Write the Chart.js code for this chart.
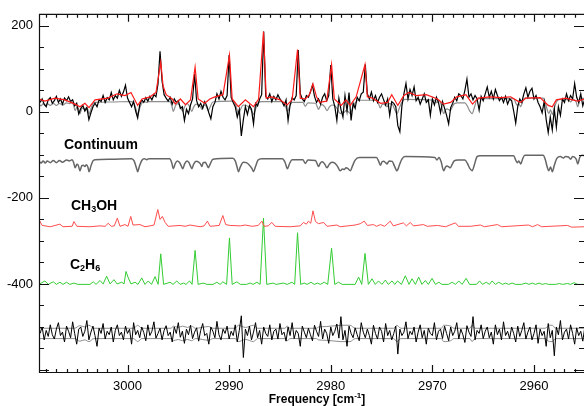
<!DOCTYPE html>
<html>
<head>
<meta charset="utf-8">
<script src="https://cdn.jsdelivr.net/npm/chart.js@4"></script>
<style>
  body { margin: 0; background: #fff; }
  canvas { display: block; }
</style>
</head>
<body>
<canvas id="chart" width="584" height="406"></canvas>
<script>
// axis ranges (frequency axis runs high -> low)
const X_MIN = 2955.08, X_MAX = 3008.71;
const Y_MIN = -607, Y_MAX = 228;
const Y_LABELS = [200, 0, -200, -400];

// observed spectrum and residual, sampled from 3008.6 cm-1 downwards in 0.2 cm-1 steps
const OBS_START = 3008.6, OBS_STEP = 0.2;
const observed = [
  22, 30, 18, 12, 28, 33, 20, 26, 36, 22, 30, 18, 32, 26, 35, 24, 28, 14, 20, -5,
  8, 15, 2, 10, -18, -2, 12, 20, 12, 28, 24, 38, 22, 33, 28, 45, 28, 38, 32, 50,
  36, 46, 62, 32, 22, 12, 24, 2, -14, 16, 28, 22, 33, 25, 36, 28, 40, 35, 65, 141,
  72, 40, 32, 25, 34, 18, 30, 22, 26, 8, 12, -20, 6, -4, 16, 30, 88, 26, 12, 20,
  8, 24, 14, -2, -16, 12, 22, 42, 30, 48, 34, 28, 38, 132, 34, 22, 12, -12, 6, -56,
  -18, 12, -6, 15, 6, -28, 20, 14, 30, 40, 187, 36, 30, 42, 24, 36, 28, 40, 30, 24,
  14, 28, -20, 16, 33, 28, 38, 144, 42, 30, 24, 38, 34, 46, 62, 36, 22, 30, 18, 34,
  42, 26, 38, 109, 30, 12, -20, 32, 6, -12, 38, 2, 45, -20, 20, 8, 34, 26, 42, 46,
  110, 42, 30, 46, 26, 38, 22, 34, 42, 28, 16, 30, -8, 24, 20, 12, -32, -46, 14, 42,
  66, 30, 52, 38, 58, 26, 34, 18, 30, 42, 22, 28, -8, 30, 16, 34, 22, -2, 24, 8,
  -8, -28, 10, 20, 34, 26, 42, 38, 30, 50, 76, 34, 42, 28, 38, 30, 4, 36, 26, 42,
  58, 34, 48, 30, 52, 38, 26, 34, 22, 36, 18, 30, 26, 2, -26, 12, 30, 22, 42, 56,
  34, 48, 55, 30, 38, 22, 12, -2, 24, -18, -48, -12, -42, 6, -36, 12, -8, 30, 22, 42,
  26, 38, 30, 66, 34, 22, 42, 14, 30
];
const residual = [
  -515, -500, -530, -508, -522, -495, -518, -528, -505, -490, -520, -512, -535, -498, -510, -525, -488, -515, -540, -505,
  -500, -522, -510, -485, -530, -512, -498, -520, -545, -503, -515, -492, -528, -510, -518, -500, -535, -508, -495, -520,
  -512, -530, -498, -515, -505, -540, -490, -518, -508, -525, -500, -513, -532, -495, -520, -510, -488, -526, -515, -503,
  -530, -508, -497, -520, -512, -535, -500, -515, -490, -524, -510, -538, -505, -518, -496, -527, -512, -502, -533, -508,
  -492, -520, -515, -540, -500, -510, -525, -487, -518, -530, -505, -515, -498, -528, -510, -520, -495, -535, -508, -474,
  -571, -505, -520, -498, -530, -512, -490, -525, -508, -540, -500, -515, -522, -495, -530, -510, -505, -528, -492, -518,
  -512, -533, -500, -520, -490, -527, -508, -515, -545, -498, -512, -525, -503, -518, -532, -496, -510, -522, -487, -528,
  -505, -515, -538, -500, -520, -510, -493, -526, -476, -530, -508, -545, -498, -515, -525, -502, -518, -532, -490, -512,
  -525, -505, -520, -540, -496, -515, -528, -500, -510, -535, -492, -520, -508, -530, -515, -498, -563, -505, -520, -512,
  -488, -527, -510, -518, -500, -535, -512, -495, -525, -508, -540, -503, -515, -520, -490, -530, -510, -505, -527, -498,
  -515, -532, -500, -520, -510, -490, -528, -505, -518, -536, -497, -512, -522, -476, -530, -508, -515, -495, -527, -510,
  -500, -525, -512, -540, -495, -518, -505, -530, -488, -520, -510, -527, -500, -515, -535, -498, -522, -508, -490, -528,
  -512, -500, -530, -515, -495, -538, -505, -520, -510, -545, -492, -525, -508, -567, -500, -518, -485, -530, -512, -505,
  -528, -495, -515, -540, -502, -520, -510, -533, -500
];

// full model (red) over the observed spectrum: [frequency, value]
const fullModel = [
  [3008.72, 30], [3008.13, 25], [3007.14, 32], [3006.16, 28], [3005.17, 18], [3004.68, 12], [3004.19, 20],
  [3003.79, 10], [3003.2, 28], [3001.92, 32], [3001.03, 42], [3000.25, 38], [2999.66, 45], [2999.0, 15],
  [2998.57, 30], [2997.78, 35], [2997.2, 45], [2996.73, 116], [2996.5, 60], [2996.2, 40], [2995.6, 30],
  [2995.3, 18], [2994.8, 30], [2994.3, 17], [2993.8, 28], [2993.35, 104], [2993.05, 30], [2992.4, 20],
  [2991.9, 30], [2991.4, 35], [2990.6, 40], [2989.97, 132], [2989.7, 30], [2989.1, 12], [2988.4, 28],
  [2987.6, 12], [2987.1, 30], [2986.62, 187], [2986.35, 32], [2985.8, 35], [2985.0, 28], [2984.3, 16],
  [2983.8, 28], [2983.27, 145], [2983.0, 32], [2982.5, 30], [2982.1, 40], [2981.75, 65], [2981.4, 35],
  [2981.1, 22], [2980.4, 25], [2979.92, 110], [2979.65, 30], [2978.97, 15], [2978.5, 28], [2978.08, 15],
  [2977.5, 35], [2976.63, 110], [2976.4, 35], [2975.9, 32], [2975.1, 20], [2974.4, 22], [2974.0, 40],
  [2973.4, 15], [2972.8, 38], [2972.3, 45], [2971.6, 38], [2970.6, 40], [2969.5, 30], [2968.9, 18],
  [2968.2, 22], [2967.6, 35], [2966.7, 40], [2966.05, 18], [2965.5, 32], [2964.3, 35], [2963.3, 33],
  [2962.3, 35], [2961.6, 25], [2961.3, 22], [2960.8, 32], [2959.4, 33], [2958.6, 15], [2958.2, 12],
  [2957.8, 28], [2956.9, 32], [2955.7, 25], [2955.0, 30]
];

// continuum model (grey), shown on its own and again under the observed spectrum
const continuum = [
  [3008.7, -115], [3008.5, -119], [3008.3, -114], [3008.1, -119], [3007.9, -114], [3007.6, -118],
  [3007.3, -113], [3007.0, -118], [3006.7, -113], [3006.4, -117], [3006.0, -112], [3005.7, -114],
  [3005.45, -111], [3005.3, -118], [3005.15, -130], [3004.98, -122], [3004.85, -124], [3004.68, -137],
  [3004.5, -125], [3004.35, -124], [3004.19, -127], [3004.05, -123], [3003.9, -128], [3003.79, -139],
  [3003.6, -126], [3003.4, -114], [3003.2, -111], [3001.7, -110], [2999.6, -109], [2999.35, -114],
  [2999.15, -128], [2999.0, -139], [2998.85, -128], [2998.6, -113], [2998.35, -109], [2998.1, -111],
  [2997.9, -109], [2995.85, -109], [2995.65, -118], [2995.49, -132], [2995.3, -120], [2995.1, -114],
  [2994.9, -117], [2994.72, -125], [2994.56, -132], [2994.38, -121], [2994.15, -114], [2993.95, -118],
  [2993.8, -126], [2993.67, -132], [2993.5, -122], [2993.25, -115], [2993.0, -117], [2992.8, -122],
  [2992.69, -127], [2992.55, -118], [2992.35, -117], [2992.18, -124], [2992.04, -130], [2991.88, -122],
  [2991.6, -110], [2989.65, -108], [2989.4, -114], [2989.22, -128], [2989.08, -139], [2988.9, -128],
  [2988.6, -117], [2988.3, -118], [2988.0, -124], [2987.75, -132], [2987.6, -139], [2987.42, -128],
  [2987.15, -112], [2986.8, -109], [2984.75, -109], [2984.5, -117], [2984.26, -132], [2984.05, -120],
  [2983.8, -111], [2982.75, -111], [2982.5, -120], [2982.25, -112], [2981.5, -113], [2981.35, -120],
  [2981.2, -127], [2981.05, -120], [2980.85, -116], [2980.6, -121], [2980.37, -130], [2980.15, -122],
  [2979.9, -117], [2979.6, -119], [2979.35, -126], [2979.07, -137], [2978.85, -133], [2978.67, -134],
  [2978.5, -130], [2978.3, -132], [2978.08, -137], [2977.85, -125], [2977.6, -112], [2977.2, -106],
  [2975.5, -106], [2975.3, -114], [2975.12, -124], [2974.95, -116], [2974.8, -115], [2974.6, -118],
  [2974.46, -121], [2974.25, -114], [2973.95, -115], [2973.75, -125], [2973.48, -137], [2973.25, -124],
  [2973.0, -110], [2972.7, -104], [2969.75, -106], [2969.55, -112], [2969.35, -106], [2969.15, -115],
  [2968.89, -137], [2968.7, -128], [2968.55, -126], [2968.38, -128], [2968.23, -130], [2968.05, -122],
  [2967.85, -114], [2967.5, -112], [2966.8, -112], [2966.55, -120], [2966.3, -132], [2966.09, -137],
  [2965.88, -124], [2965.6, -104], [2965.3, -102], [2962.0, -102], [2961.8, -112], [2961.65, -118],
  [2961.5, -114], [2961.3, -121], [2961.1, -108], [2960.9, -101], [2959.1, -101], [2958.9, -110],
  [2958.7, -128], [2958.54, -137], [2958.37, -128], [2958.2, -139], [2958.0, -124], [2957.75, -108],
  [2957.4, -104], [2957.1, -107], [2956.9, -104], [2956.6, -105], [2956.4, -110], [2956.2, -104],
  [2955.85, -110], [2955.7, -121], [2955.5, -106], [2955.3, -101], [2955.0, -102]
];
const CONTINUUM_TOP_SHIFT = 133;

// CH3OH model (red, offset)
const ch3oh = [
  [3008.67, -252], [3008.4, -264], [3007.6, -267], [3006.65, -261], [3006.35, -267], [3005.45, -266],
  [3005.27, -255], [3004.98, -266], [3003.7, -267], [3002.7, -265], [3002.2, -266], [3001.9, -259],
  [3001.6, -266], [3001.3, -265], [3001.0, -247], [3000.74, -266], [3000.25, -262], [2999.95, -266],
  [2999.68, -243], [2999.46, -263], [2998.77, -262], [2998.28, -267], [2997.78, -265], [2997.39, -263],
  [2997.02, -227], [2996.8, -250], [2996.57, -243], [2996.3, -257], [2996.0, -266], [2994.83, -264],
  [2994.34, -266], [2993.84, -263], [2992.86, -267], [2992.46, -265], [2992.14, -254], [2991.87, -266],
  [2990.98, -264], [2990.62, -241], [2990.34, -262], [2989.9, -264], [2988.9, -265], [2988.42, -263],
  [2987.73, -266], [2987.14, -264], [2986.78, -254], [2986.55, -266], [2986.16, -265], [2985.8, -257],
  [2985.47, -266], [2984.0, -267], [2983.0, -265], [2982.69, -257], [2982.4, -261], [2982.2, -254],
  [2981.97, -259], [2981.75, -230], [2981.5, -255], [2981.2, -260], [2980.7, -257], [2980.37, -266],
  [2979.4, -263], [2979.07, -267], [2977.6, -263], [2977.1, -260], [2976.7, -254], [2976.4, -264],
  [2975.8, -262], [2975.5, -266], [2975.1, -262], [2974.7, -266], [2974.14, -254], [2973.85, -265],
  [2972.86, -258], [2972.56, -265], [2972.17, -257], [2971.87, -265], [2970.89, -262], [2970.5, -266],
  [2969.5, -264], [2968.7, -267], [2967.74, -258], [2967.44, -266], [2966.26, -266], [2965.27, -263],
  [2964.88, -267], [2963.6, -262], [2963.2, -267], [2960.54, -263], [2960.14, -267], [2959.65, -262],
  [2959.26, -267], [2956.7, -264], [2956.3, -268], [2955.0, -267]
];

// C2H6 model (green, offset)
const c2h6 = [
  [3008.72, -401], [3008.13, -393], [3007.8, -401], [3007.3, -395], [3007.0, -401], [3006.65, -396],
  [3006.35, -401], [3006.0, -396], [3005.67, -401], [3005.27, -398], [3004.88, -401], [3003.7, -401],
  [3003.37, -395], [3003.1, -401], [3002.7, -392], [3002.4, -400], [3002.05, -382], [3001.72, -400],
  [3001.33, -390], [3001.03, -400], [3000.57, -396], [3000.34, -400], [3000.15, -371], [2999.92, -386],
  [2999.66, -400], [2999.26, -396], [2998.97, -401], [2998.6, -386], [2998.28, -401], [2997.96, -393],
  [2997.64, -401], [2997.29, -383], [2996.99, -401], [2996.73, -330], [2996.45, -401], [2995.81, -396],
  [2995.52, -401], [2995.15, -393], [2994.83, -401], [2994.5, -398], [2994.24, -401], [2993.9, -393],
  [2993.65, -401], [2993.35, -322], [2993.05, -401], [2992.56, -398], [2992.17, -401], [2991.58, -401],
  [2991.21, -396], [2990.89, -401], [2990.62, -395], [2990.25, -401], [2989.97, -293], [2989.7, -401],
  [2989.24, -395], [2988.9, -401], [2988.3, -401], [2987.93, -398], [2987.64, -401], [2987.27, -396],
  [2986.95, -401], [2986.62, -247], [2986.3, -401], [2985.67, -398], [2985.37, -401], [2984.65, -398],
  [2984.29, -401], [2983.82, -396], [2983.55, -401], [2983.27, -281], [2982.96, -401], [2982.61, -398],
  [2982.32, -401], [2981.95, -396], [2981.63, -401], [2981.3, -398], [2981.03, -401], [2980.64, -396],
  [2980.3, -401], [2979.92, -317], [2979.61, -401], [2979.24, -396], [2978.87, -401], [2977.6, -401],
  [2977.26, -384], [2976.95, -401], [2976.63, -329], [2976.3, -401], [2975.94, -388], [2975.62, -401],
  [2975.3, -393], [2974.97, -401], [2974.63, -391], [2974.34, -401], [2973.97, -393], [2973.7, -401],
  [2973.42, -393], [2973.05, -401], [2972.66, -381], [2972.3, -401], [2972.0, -388], [2971.67, -401],
  [2971.35, -384], [2971.03, -401], [2970.69, -392], [2970.4, -401], [2970.03, -387], [2969.7, -401],
  [2969.36, -396], [2969.06, -401], [2968.42, -401], [2968.05, -396], [2967.73, -401], [2967.4, -393],
  [2967.08, -401], [2966.68, -387], [2966.34, -401], [2965.66, -401], [2965.36, -393], [2965.07, -401],
  [2964.7, -396], [2964.38, -401], [2964.12, -393], [2963.79, -401], [2963.47, -396], [2963.1, -401],
  [2962.8, -398], [2962.5, -401], [2962.15, -398], [2961.8, -401], [2961.23, -401], [2960.8, -398],
  [2960.5, -401], [2960.17, -398], [2959.85, -401], [2959.5, -398], [2959.2, -401], [2958.86, -399],
  [2958.56, -401], [2957.86, -401], [2957.5, -399], [2957.2, -401], [2956.7, -399], [2956.4, -401],
  [2956.05, -397], [2955.7, -401], [2955.0, -401]
];

// +/- noise envelope around the residual (grey)
const envUpper = [
  [3008.7, -503], [3005.2, -503], [3004.7, -497], [3004.2, -500], [3003.8, -496], [3003.3, -503],
  [2999.4, -503], [2999.0, -496], [2998.6, -503], [2995.7, -503], [2995.5, -498], [2995.0, -501],
  [2994.6, -498], [2994.1, -501], [2993.7, -498], [2993.3, -503], [2992.0, -499], [2991.6, -503],
  [2989.4, -503], [2989.1, -496], [2988.4, -501], [2987.6, -496], [2987.2, -503], [2984.5, -503],
  [2984.3, -498], [2984.0, -503], [2981.4, -503], [2981.2, -500], [2980.4, -499], [2979.0, -496],
  [2978.1, -496], [2977.6, -503], [2973.8, -503], [2973.5, -496], [2973.1, -503], [2969.1, -503],
  [2968.9, -496], [2968.2, -498], [2967.9, -503], [2966.3, -503], [2966.1, -496], [2965.8, -503],
  [2958.9, -503], [2958.5, -496], [2958.2, -496], [2957.9, -503], [2955.0, -503]
];
const envLower = [
  [3008.7, -527], [3005.2, -527], [3004.7, -533], [3004.2, -530], [3003.8, -534], [3003.3, -527],
  [2999.4, -527], [2999.0, -534], [2998.6, -527], [2995.7, -527], [2995.5, -532], [2995.0, -529],
  [2994.6, -532], [2994.1, -529], [2993.7, -532], [2993.3, -527], [2992.0, -531], [2991.6, -527],
  [2989.4, -527], [2989.1, -534], [2988.4, -529], [2987.6, -534], [2987.2, -527], [2984.5, -527],
  [2984.3, -532], [2984.0, -527], [2981.4, -527], [2981.2, -530], [2980.4, -531], [2979.0, -534],
  [2978.1, -534], [2977.6, -527], [2973.8, -527], [2973.5, -534], [2973.1, -527], [2969.1, -527],
  [2968.9, -534], [2968.2, -532], [2967.9, -527], [2966.3, -527], [2966.1, -534], [2965.8, -527],
  [2958.9, -527], [2958.5, -534], [2958.2, -534], [2957.9, -527], [2955.0, -527]
];

const FONT = '"Liberation Sans", Arial, Helvetica, sans-serif';

const pairs = (arr, shift = 0) => arr.map(p => ({ x: p[0], y: p[1] + shift }));
const sampled = arr => arr.map((v, i) => ({ x: OBS_START - i * OBS_STEP, y: v }));

function line(data, color, width, order, extra) {
  return Object.assign({
    data: data,
    borderColor: color,
    borderWidth: width,
    pointRadius: 0,
    fill: false,
    tension: 0,
    order: order,
  }, extra || {});
}

// draws a label with subscripts: parts = [[text, isSub], ...]
function subText(ctx, parts, x, y, size) {
  parts.forEach(([txt, sub]) => {
    ctx.font = 'bold ' + (sub ? Math.round(size * 0.62) : size) + 'px ' + FONT;
    ctx.fillText(txt, x, sub ? y + 4 : y);
    x += ctx.measureText(txt).width;
  });
}

// axis frame (right edge is cut off in the original), inward ticks and text labels
const decorations = {
  id: 'decorations',
  afterDraw(chart) {
    const { ctx, chartArea: a, scales: { x, y } } = chart;
    ctx.save();
    ctx.strokeStyle = '#111';
    ctx.lineWidth = 1.2;
    ctx.beginPath();
    ctx.moveTo(a.right + 2, a.top + 0.5);
    ctx.lineTo(a.left + 0.5, a.top + 0.5);
    ctx.lineTo(a.left + 0.5, a.bottom - 0.5);
    ctx.lineTo(a.right + 2, a.bottom - 0.5);

    x.ticks.forEach(t => {
      if (Math.abs(t.value - Math.round(t.value)) > 1e-6) return;
      const px = Math.round(x.getPixelForValue(t.value)) + 0.5;
      const len = Math.round(t.value) % 10 === 0 ? 8 : 4;
      ctx.moveTo(px, a.bottom); ctx.lineTo(px, a.bottom - len);
      ctx.moveTo(px, a.top); ctx.lineTo(px, a.top + len);
    });
    y.ticks.forEach(t => {
      if (Math.abs(t.value % 50) > 1e-6) return;
      const py = Math.round(y.getPixelForValue(t.value)) + 0.5;
      const len = t.value % 200 === 0 ? 10 : 5;
      ctx.moveTo(a.left, py); ctx.lineTo(a.left + len, py);
      ctx.moveTo(a.right, py); ctx.lineTo(a.right - len, py);
    });
    ctx.stroke();

    ctx.fillStyle = '#000';
    ctx.textBaseline = 'middle';
    ctx.textAlign = 'left';
    subText(ctx, [['Continuum', false]], 64, 145, 14);
    subText(ctx, [['CH', false], ['3', true], ['OH', false]], 71, 206, 14);
    subText(ctx, [['C', false], ['2', true], ['H', false], ['6', true]], 70, 265, 14);

    // x axis title with superscript
    ctx.font = 'bold 12px ' + FONT;
    const w1 = ctx.measureText('Frequency [cm').width;
    const w3 = ctx.measureText(']').width;
    ctx.font = 'bold 8px ' + FONT;
    const w2 = ctx.measureText('-1').width;
    let tx = 317 - (w1 + w2 + w3) / 2;
    ctx.font = 'bold 12px ' + FONT;
    ctx.fillText('Frequency [cm', tx, 400); tx += w1;
    ctx.font = 'bold 8px ' + FONT;
    ctx.fillText('-1', tx, 396); tx += w2;
    ctx.font = 'bold 12px ' + FONT;
    ctx.fillText(']', tx, 400);
    ctx.restore();
  }
};

new Chart(document.getElementById('chart'), {
  type: 'line',
  data: {
    datasets: [
      line(pairs(fullModel), '#ff1a1a', 1.2, 1),
      line(sampled(observed), '#000000', 1.2, 2),
      line(pairs(continuum, CONTINUUM_TOP_SHIFT), '#8c8c8c', 1.2, 3, { cubicInterpolationMode: 'monotone' }),
      line(pairs(continuum), '#666666', 1.5, 4, { cubicInterpolationMode: 'monotone' }),
      line(pairs(ch3oh), '#ff4d4d', 1, 5),
      line(pairs(c2h6), '#33cc33', 1, 6),
      line(sampled(residual), '#000000', 1, 7),
      line(pairs(envUpper), '#8c8c8c', 1, 8, { cubicInterpolationMode: 'monotone' }),
      line(pairs(envLower), '#8c8c8c', 1, 9, { cubicInterpolationMode: 'monotone' }),
    ],
  },
  options: {
    responsive: false,
    animation: false,
    events: [],
    layout: { padding: { top: 12, right: 0, left: 0, bottom: 0 } },
    plugins: { legend: { display: false }, tooltip: { enabled: false } },
    scales: {
      x: {
        type: 'linear',
        reverse: true,
        min: X_MIN,
        max: X_MAX,
        afterFit: s => { s.height = 33; },
        grid: { display: false, drawTicks: false },
        border: { display: false },
        ticks: {
          stepSize: 1,
          includeBounds: false,
          autoSkip: false,
          maxRotation: 0,
          padding: 6,
          color: '#000',
          font: { family: FONT, size: 13 },
          callback: v => (Math.abs(v % 10) < 1e-6 ? String(v) : ''),
        },
      },
      y: {
        type: 'linear',
        min: Y_MIN,
        max: Y_MAX,
        afterFit: s => { s.width = 39; },
        grid: { display: false, drawTicks: false },
        border: { display: false },
        ticks: {
          stepSize: 50,
          includeBounds: false,
          autoSkip: false,
          padding: 6,
          color: '#000',
          font: { family: FONT, size: 13 },
          callback: v => (Y_LABELS.includes(v) ? String(v) : ''),
        },
      },
    },
  },
  plugins: [decorations],
});
</script>
</body>
</html>
